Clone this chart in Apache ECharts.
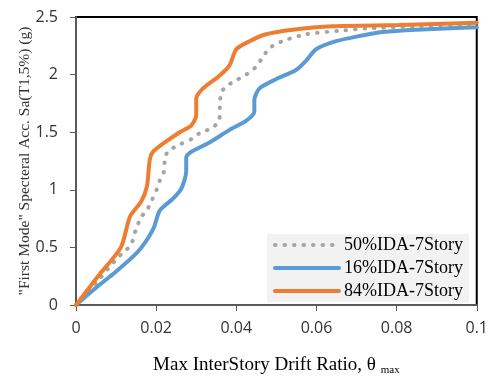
<!DOCTYPE html>
<html>
<head>
<meta charset="utf-8">
<script src="https://cdn.jsdelivr.net/npm/echarts@6/dist/echarts.min.js"></script>
<style>
html,body{margin:0;padding:0;background:#fff;}
#chart{width:491px;height:381px;}
</style>
</head>
<body>
<div id="chart"></div>
<script>
// ---- data ----
var seriesNames = ['50%IDA-7Story', '16%IDA-7Story', '84%IDA-7Story'];

var ida50X = [0, 0.0057, 0.0079, 0.0104, 0.0119, 0.0137, 0.0149, 0.0162, 0.0178, 0.0188, 0.0201, 0.0209, 0.0221, 0.0221, 0.0232, 0.0263, 0.0288, 0.0308, 0.0341, 0.0358, 0.0359, 0.0362, 0.0375, 0.0400, 0.0433, 0.0450, 0.0462, 0.0483, 0.0515, 0.0574, 0.0657, 0.0723, 0.0850, 0.1000];
var ida50Y = [0, 0.22, 0.31, 0.41, 0.46, 0.52, 0.65, 0.76, 0.83, 0.90, 1.00, 1.08, 1.18, 1.27, 1.34, 1.40, 1.44, 1.49, 1.54, 1.61, 1.72, 1.84, 1.90, 1.95, 2.02, 2.07, 2.13, 2.23, 2.29, 2.35, 2.38, 2.40, 2.42, 2.44];

var ida16X = [0, 0.0050, 0.0100, 0.0151, 0.0174, 0.0194, 0.0209, 0.0241, 0.0263, 0.0275, 0.0275, 0.0288, 0.0333, 0.0383, 0.0425, 0.0445, 0.0445, 0.0458, 0.0499, 0.0549, 0.0574, 0.0599, 0.0649, 0.0714, 0.0764, 0.0850, 0.1000];
var ida16Y = [0, 0.15, 0.29, 0.45, 0.55, 0.67, 0.82, 0.92, 1.01, 1.16, 1.28, 1.33, 1.41, 1.52, 1.60, 1.68, 1.78, 1.88, 1.96, 2.04, 2.12, 2.22, 2.29, 2.34, 2.37, 2.39, 2.41];

var ida84X = [0, 0.0055, 0.0112, 0.0135, 0.0163, 0.0177, 0.0184, 0.0192, 0.0217, 0.0259, 0.0288, 0.0300, 0.0300, 0.0317, 0.0358, 0.0383, 0.0400, 0.0433, 0.0474, 0.0540, 0.0640, 0.0806, 0.1000];
var ida84Y = [0, 0.25, 0.50, 0.77, 0.90, 1.03, 1.26, 1.33, 1.40, 1.50, 1.56, 1.65, 1.79, 1.88, 1.99, 2.08, 2.22, 2.29, 2.35, 2.39, 2.42, 2.43, 2.45];

var xTickLabels = ['0', '0.02', '0.04', '0.06', '0.08', '0.1'];
var yTickLabels = ['0', '0.5', '1', '1.5', '2', '2.5'];

function zip(xs, ys) { return xs.map(function (x, i) { return [x, ys[i]]; }); }

var chart = echarts.init(document.getElementById('chart'), null, {renderer: 'canvas'});
var serif = 'Liberation Serif';
var sans = 'Open Sans';

chart.setOption({
  animation: false,
  backgroundColor: '#ffffff',
  grid: {
    left: 76, right: 13, top: 17, bottom: 70,
    show: true, borderColor: '#000000', borderWidth: 2, backgroundColor: 'transparent'
  },
  legend: {
    orient: 'vertical',
    left: 267, top: 234,
    backgroundColor: '#f2f2f2',
    padding: [2, 6, 2, 6],
    itemGap: 5,
    itemWidth: 64,
    itemHeight: 18,
    data: seriesNames,
    itemStyle: {opacity: 0},
    lineStyle: {width: 4},
    textStyle: {fontFamily: serif, fontSize: 18, color: '#000'}
  },
  xAxis: {
    type: 'value', min: 0, max: 0.1, interval: 0.02,
    name: '{t|Max InterStory Drift Ratio, θ }{s|max}',
    nameLocation: 'middle', nameGap: 50, nameMoveOverlap: false,
    nameTextStyle: {
      rich: {
        t: {fontFamily: serif, fontSize: 19, color: '#000'},
        s: {fontFamily: serif, fontSize: 11, color: '#000', padding: [10, 0, 0, 0]}
      }
    },
    splitLine: {show: false},
    axisLine: {show: true, lineStyle: {color: '#595959', width: 2}},
    axisTick: {show: true, inside: false, length: 6, lineStyle: {color: '#595959', width: 1}},
    axisLabel: {
      margin: 15, fontFamily: sans, fontSize: 16, color: '#333',
      formatter: function (v, i) { return xTickLabels[i]; }
    }
  },
  yAxis: {
    type: 'value', min: 0, max: 2.5, interval: 0.5,
    name: '"First Mode" Specteral Acc. Sa(T1,5%) (g)',
    nameLocation: 'middle', nameGap: 43, nameRotate: 90, nameMoveOverlap: false,
    nameTextStyle: {fontFamily: serif, fontSize: 15.5, color: '#333'},
    splitLine: {show: false},
    axisLine: {show: true, lineStyle: {color: '#595959', width: 2}},
    axisTick: {show: true, inside: false, length: 6, lineStyle: {color: '#595959', width: 1}},
    axisLabel: {
      margin: 18, fontFamily: sans, fontSize: 16, color: '#333',
      formatter: function (v, i) { return yTickLabels[i]; }
    }
  },
  series: [
    {
      name: seriesNames[0], type: 'line', data: zip(ida50X, ida50Y),
      symbol: 'none', smooth: 0.25, z: 3,
      lineStyle: {color: '#a5a5a5', width: 4, type: [0.5, 9], cap: 'round'},
      itemStyle: {color: '#a5a5a5'}
    },
    {
      name: seriesNames[1], type: 'line', data: zip(ida16X, ida16Y),
      symbol: 'none', smooth: 0.25, z: 4,
      lineStyle: {color: '#5b9bd5', width: 4, cap: 'round'},
      itemStyle: {color: '#5b9bd5'}
    },
    {
      name: seriesNames[2], type: 'line', data: zip(ida84X, ida84Y),
      symbol: 'none', smooth: 0.25, z: 5,
      lineStyle: {color: '#ed7d31', width: 4, cap: 'round'},
      itemStyle: {color: '#ed7d31'}
    }
  ]
});
</script>
</body>
</html>
